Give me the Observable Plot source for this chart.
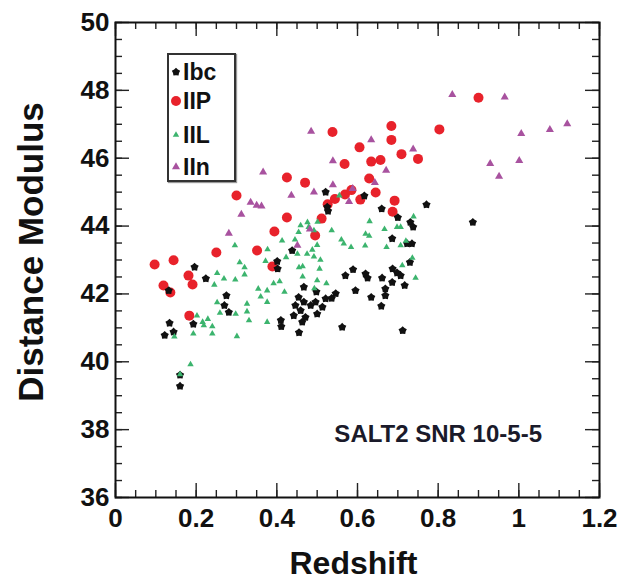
<!DOCTYPE html>
<html><head><meta charset="utf-8">
<script src="https://cdn.jsdelivr.net/npm/d3@7"></script>
<script src="https://cdn.jsdelivr.net/npm/@observablehq/plot@0.6"></script>
<style>
body{margin:0;background:#fff;}
#wrap{position:relative;width:626px;height:585px;font-family:"Liberation Sans",Arial,Helvetica,sans-serif;}
#legend{position:absolute;left:167px;top:53px;width:69px;height:129px;box-sizing:border-box;border:2px solid #333;background:#fff;box-shadow:1px 1px 1px #999;}
.item{position:absolute;left:0;height:26px;display:flex;align-items:center;font-weight:bold;font-size:23px;color:#111;line-height:1;}
.item svg{margin-left:1px;margin-right:1px;}
</style></head><body><div id="wrap"></div>
<script>
// ---- data ----
const xTickValues = [0, 0.2, 0.4, 0.6, 0.8, 1, 1.2];
const xTickLabels = ["0", "0.2", "0.4", "0.6", "0.8", "1", "1.2"];
const yTickValues = [36, 38, 40, 42, 44, 46, 48, 50];
const yTickLabels = ["36", "38", "40", "42", "44", "46", "48", "50"];
const xLabel = "Redshift";
const yLabel = "Distance Modulus";
const annotText = "SALT2 SNR 10-5-5";
const annotX = 0.8, annotY = 37.85;

const seriesNames = ["Ibc", "IIP", "IIL", "IIn"];

const ibcZ = [0.122,0.134,0.144,0.132,0.160,0.160,0.193,0.196,0.224,0.275,0.270,0.281,0.401,0.402,0.410,0.411,0.438,0.455,0.467,0.498,0.454,0.467,0.446,0.459,0.442,0.471,0.463,0.484,0.496,0.500,0.513,0.521,0.536,0.546,0.562,0.521,0.525,0.527,0.617,0.570,0.589,0.595,0.620,0.625,0.661,0.634,0.659,0.669,0.669,0.686,0.687,0.698,0.707,0.717,0.730,0.712,0.686,0.723,0.735,0.660,0.700,0.731,0.738,0.771,0.886];
const ibcMu = [40.78,41.14,40.88,42.10,39.61,39.28,41.11,42.79,42.45,41.95,41.66,41.46,42.96,42.74,41.22,41.04,43.28,40.86,42.20,42.06,41.90,41.76,41.66,41.51,41.36,41.31,41.17,41.66,41.76,41.41,41.61,41.86,41.87,42.01,41.02,45.00,44.56,44.44,44.89,42.54,42.72,42.10,42.59,42.47,42.47,41.90,41.64,42.15,41.95,42.34,42.74,42.62,42.54,42.25,42.93,40.92,43.63,43.48,43.48,44.51,44.25,44.11,43.97,44.63,44.11];

const iipZ = [0.097,0.144,0.119,0.136,0.181,0.191,0.183,0.250,0.300,0.351,0.394,0.389,0.425,0.425,0.470,0.495,0.511,0.526,0.544,0.569,0.585,0.607,0.538,0.568,0.605,0.634,0.629,0.645,0.684,0.684,0.709,0.750,0.657,0.692,0.687,0.803,0.900];
const iipMu = [42.87,42.99,42.25,42.04,42.54,42.28,41.36,43.22,44.90,43.28,43.84,42.81,44.25,45.43,45.28,43.72,44.22,44.64,44.80,44.93,45.06,44.78,46.77,45.83,46.32,45.90,45.40,44.99,46.95,46.54,46.12,45.98,45.95,44.75,44.42,46.85,47.78];

const iilZ = [0.160,0.186,0.146,0.193,0.202,0.216,0.219,0.229,0.240,0.240,0.245,0.252,0.269,0.252,0.259,0.296,0.308,0.320,0.320,0.297,0.298,0.301,0.326,0.326,0.331,0.354,0.360,0.376,0.376,0.372,0.377,0.376,0.392,0.407,0.419,0.413,0.445,0.451,0.423,0.455,0.464,0.464,0.459,0.476,0.479,0.492,0.501,0.454,0.536,0.560,0.566,0.584,0.620,0.629,0.619,0.630,0.667,0.698,0.707,0.739,0.672,0.707,0.720,0.736,0.711,0.744,0.500,0.488,0.492,0.508,0.506,0.500,0.523,0.493,0.475,0.555];
const iilMu = [39.63,39.92,40.74,40.83,41.36,41.17,41.07,41.26,41.04,40.83,42.27,42.61,42.45,41.75,41.44,43.43,42.93,42.78,42.57,42.42,41.41,40.75,41.71,41.48,41.22,42.15,41.92,41.76,41.17,42.97,43.31,42.10,42.31,42.37,42.06,43.57,43.60,43.18,43.08,42.78,42.81,42.51,44.02,44.11,43.97,43.87,44.12,43.82,43.87,43.60,43.48,43.38,43.77,43.71,43.42,44.14,43.91,43.97,43.97,44.28,43.38,43.43,43.56,43.06,42.84,42.47,43.44,43.30,43.10,43.00,42.74,42.40,42.31,42.16,43.18,44.90];

const iinZ = [0.281,0.312,0.335,0.350,0.362,0.366,0.436,0.451,0.482,0.485,0.492,0.539,0.539,0.579,0.588,0.634,0.643,0.671,0.738,0.835,0.929,0.951,0.965,1.001,1.006,1.077,1.120];
const iinMu = [43.78,44.34,44.70,44.61,44.59,45.59,44.90,43.43,43.91,46.79,45.00,45.92,45.21,44.72,45.10,46.54,45.28,45.64,46.27,47.87,45.84,45.46,47.80,45.93,46.72,46.84,47.01];

// ---- styles ----
const blobStar = {
  draw(ctx, size) {
    const R = Math.sqrt(size / Math.PI) * 1.12;
    for (let i = 0; i < 10; i++) {
      const a = -Math.PI / 2 + i * Math.PI / 5;
      const rr = i % 2 ? R * 0.72 : R;
      const x = rr * Math.cos(a), y = rr * Math.sin(a);
      if (i) ctx.lineTo(x, y); else ctx.moveTo(x, y);
    }
    ctx.closePath();
  }
};
const styles = {
  Ibc: {color: "#111111", symbol: blobStar, r: 3.9},
  IIP: {color: "#e8222b", symbol: d3.symbolCircle, r: 5},
  IIL: {color: "#3cb46e", symbol: d3.symbolTriangle, r: 2.4},
  IIn: {color: "#a8529f", symbol: d3.symbolTriangle, r: 3}
};
const seriesData = {
  Ibc: ibcZ.map((z, i) => ({z, mu: ibcMu[i]})),
  IIP: iipZ.map((z, i) => ({z, mu: iipMu[i]})),
  IIL: iilZ.map((z, i) => ({z, mu: iilMu[i]})),
  IIn: iinZ.map((z, i) => ({z, mu: iinMu[i]}))
};
const drawOrder = ["IIP", "Ibc", "IIL", "IIn"];

const W = 626, H = 585, mL = 115, mR = 27, mT = 22, mB = 88;
const fw = W - mL - mR, fh = H - mT - mB;
const majorLen = 14, minorLen = 7;
const xMinor = d3.range(0, 24 + 1).map(i => +(i * 0.05).toFixed(2));
const yMinor = d3.range(0, 28 + 1).map(i => 36 + i * 0.5);
const font = "'Liberation Sans', Arial, Helvetica, sans-serif";
const tickStroke = {stroke: "#222", strokeWidth: 1.4};

const chart = Plot.plot({
  width: W, height: H,
  marginLeft: mL, marginRight: mR, marginTop: mT, marginBottom: mB,
  style: {fontFamily: font, background: "#fff"},
  x: {domain: [0, 1.2]},
  y: {domain: [36, 50]},
  marks: [
    // minor ticks
    Plot.ruleX(xMinor, {...tickStroke, insetTop: fh - minorLen}),
    Plot.ruleX(xMinor, {...tickStroke, insetBottom: fh - minorLen}),
    Plot.ruleY(yMinor, {...tickStroke, insetRight: fw - minorLen}),
    Plot.ruleY(yMinor, {...tickStroke, insetLeft: fw - minorLen}),
    // major ticks
    Plot.ruleX(xTickValues, {...tickStroke, insetTop: fh - majorLen}),
    Plot.ruleX(xTickValues, {...tickStroke, insetBottom: fh - majorLen}),
    Plot.ruleY(yTickValues, {...tickStroke, insetRight: fw - majorLen}),
    Plot.ruleY(yTickValues, {...tickStroke, insetLeft: fw - majorLen}),
    Plot.axisX({ticks: xTickValues, tickFormat: d => xTickLabels[xTickValues.indexOf(d)], tickSize: 0, tickPadding: 11, fontSize: 26, fontWeight: "bold", fill: "#111", label: null}),
    Plot.axisY({ticks: yTickValues, tickFormat: d => yTickLabels[yTickValues.indexOf(d)], tickSize: 0, tickPadding: 6, fontSize: 26, fontWeight: "bold", fill: "#111", label: null}),
    ...drawOrder.map(k => Plot.dot(seriesData[k], {x: "z", y: "mu", fill: styles[k].color, symbol: styles[k].symbol, r: styles[k].r})),
    Plot.text([annotText], {x: annotX, y: annotY, fontSize: 24, fontWeight: "bold", fill: "#1a1a2a"}),
    Plot.text([xLabel], {frameAnchor: "bottom", textAnchor: "middle", lineAnchor: "middle", dy: 66, dx: -4, fontSize: 32, fontWeight: "bold", fill: "#111"}),
    Plot.text([yLabel], {frameAnchor: "left", textAnchor: "middle", lineAnchor: "middle", rotate: -90, dx: -84, dy: -8, fontSize: 35, fontWeight: "bold", fill: "#111"}),
    Plot.frame({stroke: "#111", strokeWidth: 2})
  ]
});
const wrap = document.getElementById("wrap");
wrap.appendChild(chart);

// legend overlay
const legend = document.createElement("div");
legend.id = "legend";
const itemTops = [4, 33, 67, 99];
seriesNames.forEach((name, i) => {
  const st = styles[name];
  const item = document.createElement("div");
  item.className = "item";
  item.style.top = itemTops[i] + "px";
  const size = Math.PI * st.r * st.r;
  const path = d3.symbol(st.symbol, size)();
  item.innerHTML = `<svg width="12" height="14" viewBox="-6 -7 12 14"><path d="${path}" fill="${st.color}"/></svg><span>${name}</span>`;
  legend.appendChild(item);
});
wrap.appendChild(legend);
</script>
</body></html>
